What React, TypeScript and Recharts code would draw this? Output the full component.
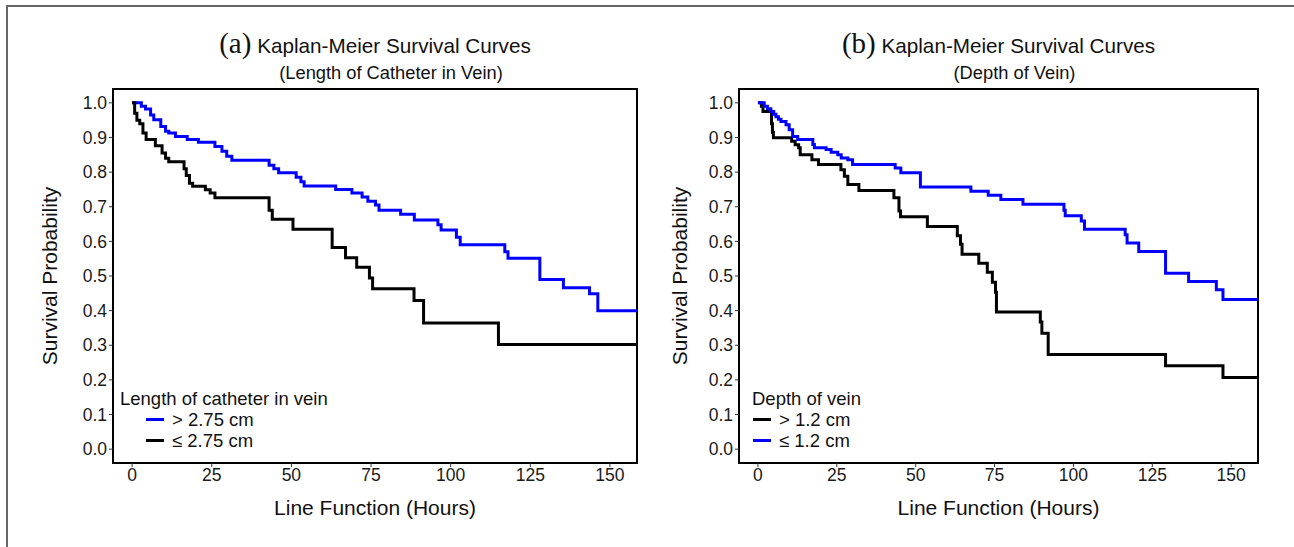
import React from 'react';
import { LineChart, Line, XAxis, YAxis, ReferenceArea } from 'recharts';

const xTicks = [0, 25, 50, 75, 100, 125, 150];
const yTicks = [0, 0.1, 0.2, 0.3, 0.4, 0.5, 0.6, 0.7, 0.8, 0.9, 1.0];
const xDomain: [number, number] = [-6, 158.5];
const yDomain: [number, number] = [-0.04, 1.04];

// Panel (a): length of catheter in vein
const aGtTimes = [0, 2.9, 4.2, 5.8, 6.8, 9, 10.5, 11.5, 13.6, 17.3, 20.8, 26, 28.2, 29.7, 31.3, 43, 44.5, 46, 51.5, 53, 54, 63.9, 69, 72.2, 74, 76.4, 77.5, 84.3, 88.6, 96, 97, 101.8, 103, 117, 118, 128, 135.4, 143.6, 146.2, 158.5];
const aGtSurv = [1, 0.99, 0.982, 0.965, 0.951, 0.932, 0.918, 0.913, 0.903, 0.894, 0.886, 0.874, 0.86, 0.846, 0.834, 0.82, 0.81, 0.798, 0.785, 0.772, 0.76, 0.75, 0.74, 0.728, 0.716, 0.705, 0.69, 0.678, 0.662, 0.648, 0.633, 0.612, 0.59, 0.57, 0.551, 0.49, 0.466, 0.449, 0.4, 0.4];
const aLeTimes = [0, 0.8, 1.5, 2.4, 3.4, 4.4, 7.3, 9.4, 10.5, 11.5, 16.3, 17, 18, 19, 23, 24.5, 26, 43, 44, 50.5, 62.8, 67, 70.5, 74.5, 75.5, 88.5, 91.5, 115, 158.5];
const aLeSurv = [1, 0.97, 0.95, 0.94, 0.913, 0.894, 0.876, 0.855, 0.84, 0.83, 0.81, 0.79, 0.768, 0.759, 0.749, 0.74, 0.726, 0.69, 0.664, 0.635, 0.582, 0.553, 0.525, 0.494, 0.463, 0.429, 0.364, 0.302, 0.302];

// Panel (b): depth of vein
const bGtTimes = [0, 1.1, 1.6, 4.3, 4.6, 4.9, 10.7, 11.8, 12.9, 13.4, 17.1, 19.2, 26.3, 27.4, 28.5, 32, 43.1, 44.7, 45.2, 53.7, 63.2, 64.2, 64.7, 70, 72.7, 74.3, 75.3, 75.6, 89.5, 90, 92, 129.2, 147.4, 158.5];
const bGtSurv = [1, 0.99, 0.975, 0.94, 0.915, 0.899, 0.889, 0.879, 0.87, 0.85, 0.836, 0.822, 0.807, 0.788, 0.764, 0.747, 0.726, 0.688, 0.671, 0.643, 0.616, 0.592, 0.563, 0.537, 0.511, 0.482, 0.453, 0.396, 0.367, 0.335, 0.273, 0.241, 0.207, 0.207];
const bLeTimes = [0, 2, 3, 4.1, 5, 5.7, 6.5, 7.3, 8.9, 9.9, 11, 12.6, 17.4, 17.9, 21.6, 23.2, 25.3, 26.4, 28.5, 30, 43.5, 45.3, 51.5, 67.5, 73, 77, 84, 97, 97.4, 102.5, 103.5, 116.4, 117, 120.7, 129.2, 136.5, 145.3, 147.4, 158.5];
const bLeSurv = [1, 0.99, 0.983, 0.975, 0.967, 0.96, 0.953, 0.946, 0.937, 0.922, 0.903, 0.894, 0.88, 0.87, 0.865, 0.857, 0.85, 0.841, 0.836, 0.822, 0.812, 0.798, 0.757, 0.745, 0.733, 0.721, 0.707, 0.69, 0.674, 0.659, 0.635, 0.619, 0.595, 0.571, 0.508, 0.484, 0.46, 0.432, 0.432];

const aLegendTitle = 'Length of catheter in vein';
const aLabels = ['> 2.75 cm', '≤ 2.75 cm'];
const bLegendTitle = 'Depth of vein';
const bLabels = ['> 1.2 cm', '≤ 1.2 cm'];

const BLUE = '#0000FF';
const BLACK = '#000000';
const SANS = "'Liberation Sans', Arial, Helvetica, sans-serif";
const SERIF = "'Liberation Serif', 'Times New Roman', serif";

const toPts = (t: number[], s: number[]) => t.map((v, i) => ({ t: v, s: s[i] }));

type SeriesDef = { name: string; color: string; pts: { t: number; s: number }[] };

function LegendBox({ title, series, indent, left, top }: { title: string; series: SeriesDef[]; indent: number; left: number; top: number }) {
  return (
    <div style={{ position: 'absolute', left, top, fontFamily: SANS, fontSize: 18.5, color: '#111', lineHeight: '21px', whiteSpace: 'nowrap' }}>
      <div>{title}</div>
      {series.map((s) => (
        <div key={s.name} style={{ display: 'flex', alignItems: 'center', paddingLeft: indent }}>
          <span style={{ display: 'inline-block', width: 18, height: 3, background: s.color, marginRight: 8 }} />
          <span>{s.name}</span>
        </div>
      ))}
    </div>
  );
}

function Panel({
  left, width, mLeft, mRight, letter, subtitle, series, legendTitle, legendLeft, indent, yTitleX,
}: {
  left: number; width: number; mLeft: number; mRight: number; letter: string; subtitle: string;
  series: SeriesDef[]; legendTitle: string; legendLeft: number; indent: number; yTitleX: number;
}) {
  const plotLeft = mLeft + 60;
  const plotRight = width - mRight;
  const cx = (plotLeft + plotRight) / 2;
  return (
    <div style={{ position: 'absolute', left, top: 0, width, height: 547 }}>
      <div style={{ position: 'absolute', left: cx - 250, width: 500, top: 27, textAlign: 'center', whiteSpace: 'nowrap', color: '#111' }}>
        <span style={{ fontFamily: SERIF, fontSize: 29 }}>({letter})</span>
        <span style={{ fontFamily: SANS, fontSize: 20.7 }}> Kaplan-Meier Survival Curves</span>
      </div>
      <div style={{ position: 'absolute', left: cx - 250 + 16, width: 500, top: 62, textAlign: 'center', fontFamily: SANS, fontSize: 18.3, color: '#111' }}>
        {subtitle}
      </div>
      <div style={{ position: 'absolute', left: yTitleX - 150, top: 276 - 14, width: 300, height: 28, lineHeight: '28px', textAlign: 'center', transform: 'rotate(-90deg)', fontFamily: SANS, fontSize: 21, color: '#111' }}>
        Survival Probability
      </div>
      <div style={{ position: 'absolute', left: cx - 200, width: 400, top: 496, textAlign: 'center', fontFamily: SANS, fontSize: 21, color: '#111' }}>
        Line Function (Hours)
      </div>
      <LineChart width={width} height={547} margin={{ top: 89, left: mLeft, right: mRight, bottom: 54 }}>
        <XAxis
          type="number"
          dataKey="t"
          domain={xDomain}
          ticks={xTicks}
          interval={0}
          allowDataOverflow
          axisLine={false}
          tickSize={4}
          tickLine={{ stroke: '#333' }}
          tick={{ fontSize: 17.5, fill: '#1a1a1a', fontFamily: SANS }}
          height={30}
        />
        <YAxis
          type="number"
          domain={yDomain}
          ticks={yTicks}
          interval={0}
          allowDataOverflow
          axisLine={false}
          tickSize={4}
          tickLine={{ stroke: '#333' }}
          tickFormatter={(v: number) => v.toFixed(1)}
          tick={{ fontSize: 17.5, fill: '#1a1a1a', fontFamily: SANS }}
          width={60}
        />
        {series.map((s) => (
          <Line
            key={s.name}
            data={s.pts}
            dataKey="s"
            name={s.name}
            type="stepAfter"
            stroke={s.color}
            strokeWidth={3}
            dot={false}
            activeDot={false}
            isAnimationActive={false}
          />
        ))}
        <ReferenceArea
          x1={xDomain[0]}
          x2={xDomain[1]}
          y1={yDomain[0]}
          y2={yDomain[1]}
          fill="none"
          fillOpacity={0}
          stroke="#000"
          strokeWidth={2}
          ifOverflow="visible"
        />
      </LineChart>
      <LegendBox title={legendTitle} series={series} indent={indent} left={legendLeft} top={388} />
    </div>
  );
}

export default function App() {
  const aSeries: SeriesDef[] = [
    { name: aLabels[0], color: BLUE, pts: toPts(aGtTimes, aGtSurv) },
    { name: aLabels[1], color: BLACK, pts: toPts(aLeTimes, aLeSurv) },
  ];
  const bSeries: SeriesDef[] = [
    { name: bLabels[0], color: BLACK, pts: toPts(bGtTimes, bGtSurv) },
    { name: bLabels[1], color: BLUE, pts: toPts(bLeTimes, bLeSurv) },
  ];
  return (
    <div style={{ position: 'absolute', left: 0, top: 0, width: 1294, height: 547, background: '#fff', overflow: 'hidden' }}>
      <div style={{ position: 'absolute', left: 6, top: 5, width: 1400, height: 700, borderLeft: '2px solid #666', borderTop: '2px solid #666' }} />
      <Panel
        left={0} width={660} mLeft={53} mRight={23} letter="a"
        subtitle="(Length of Catheter in Vein)" series={aSeries}
        legendTitle={aLegendTitle} legendLeft={120} indent={26} yTitleX={50}
      />
      <Panel
        left={640} width={654} mLeft={39} mRight={36} letter="b"
        subtitle="(Depth of Vein)" series={bSeries}
        legendTitle={bLegendTitle} legendLeft={112} indent={1} yTitleX={40}
      />
    </div>
  );
}
